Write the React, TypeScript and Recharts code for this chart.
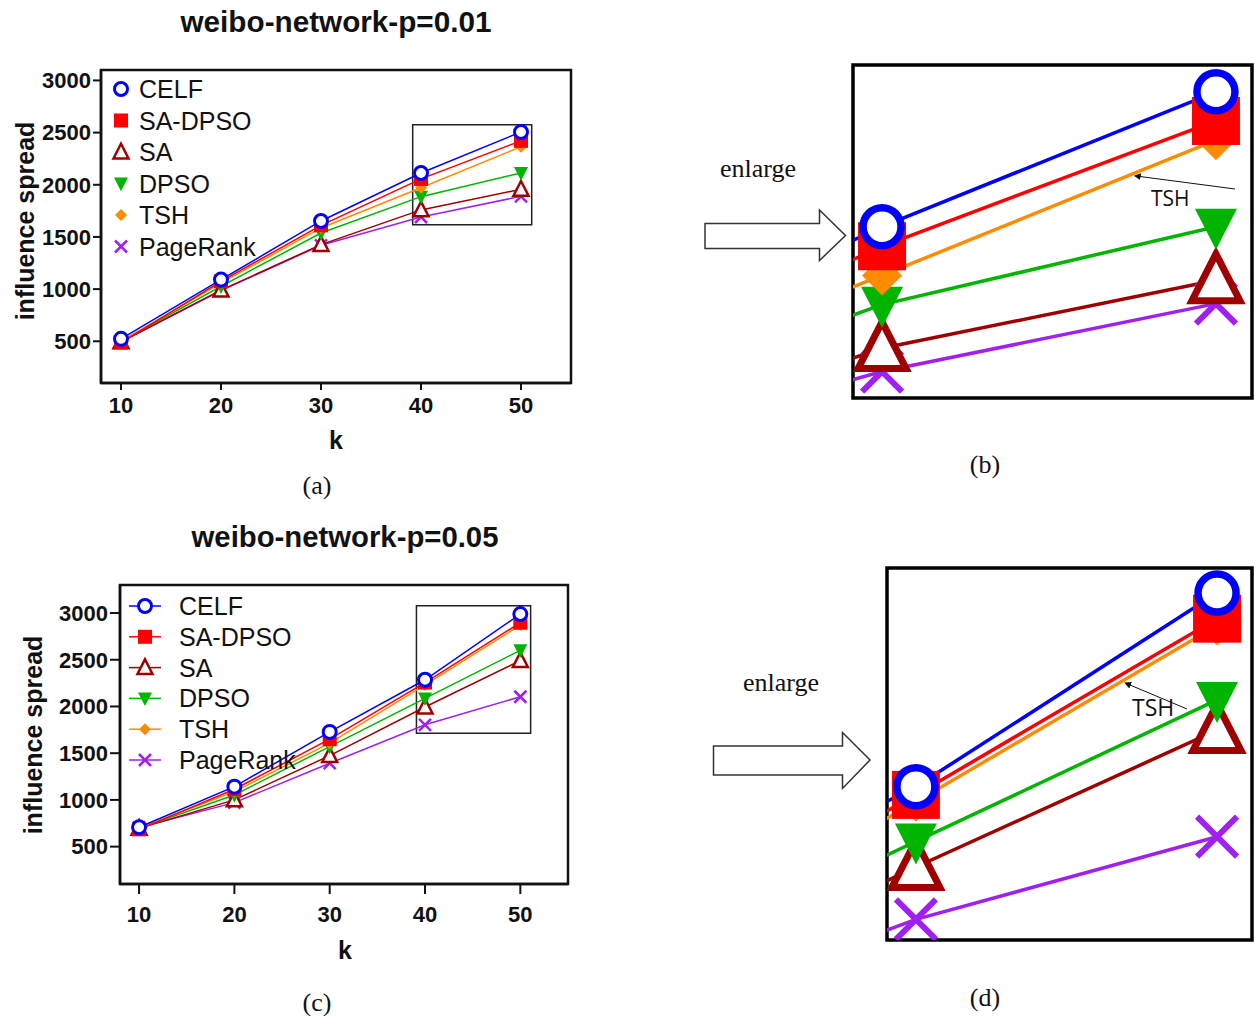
import React from 'react';
import { LineChart, Line, XAxis, YAxis, ReferenceArea, Legend } from 'recharts';

// ---------- data ----------
const kValues = [10, 20, 30, 40, 50];
const xTicks = [10, 20, 30, 40, 50];
const yTicks = [500, 1000, 1500, 2000, 2500, 3000];
const seriesNames = ['CELF', 'SA-DPSO', 'SA', 'DPSO', 'TSH', 'PageRank'];

// weibo-network p = 0.01
const celfP01 = [523, 1091, 1653, 2113, 2506];
const sadpsoP01 = [488, 1075, 1611, 2056, 2421];
const saP01 = [495, 990, 1426, 1759, 1957];
const dpsoP01 = [500, 1027, 1538, 1886, 2113];
const tshP01 = [500, 1059, 1586, 1971, 2365];
const pagerankP01 = [495, 985, 1420, 1691, 1889];

// weibo-network p = 0.05
const celfP05 = [707, 1142, 1728, 2286, 2989];
const sadpsoP05 = [685, 1114, 1650, 2256, 2896];
const saP05 = [695, 1000, 1474, 1994, 2491];
const dpsoP05 = [695, 1053, 1571, 2087, 2601];
const tshP05 = [700, 1089, 1607, 2231, 2871];
const pagerankP05 = [705, 971, 1393, 1804, 2104];

const titleA = 'weibo-network-p=0.01';
const titleC = 'weibo-network-p=0.05';
const xLabel = 'k';
const yLabel = 'influence spread';
const captions = ['(a)', '(b)', '(c)', '(d)'];
const enlargeText = 'enlarge';
const annotationText = 'TSH';

function buildRows(series: number[][]) {
  return kValues.map((k, i) => {
    const row: any = { k };
    seriesNames.forEach((n, j) => {
      row[n] = series[j][i];
    });
    return row;
  });
}
const rowsP01 = buildRows([celfP01, sadpsoP01, saP01, dpsoP01, tshP01, pagerankP01]);
const rowsP05 = buildRows([celfP05, sadpsoP05, saP05, dpsoP05, tshP05, pagerankP05]);

// ---------- styles ----------
const seriesStyle: Record<string, { color: string; shape: string }> = {
  CELF: { color: '#0000FF', shape: 'circle' },
  'SA-DPSO': { color: '#FF0000', shape: 'square' },
  SA: { color: '#9E0000', shape: 'triUp' },
  DPSO: { color: '#00B400', shape: 'triDown' },
  TSH: { color: '#FF8C00', shape: 'diamond' },
  PageRank: { color: '#A020F0', shape: 'cross' },
};
const drawOrder = ['PageRank', 'SA', 'DPSO', 'TSH', 'SA-DPSO', 'CELF'];

const smallSizes: Record<string, [number, number]> = {
  circle: [6.5, 3],
  square: [7, 0],
  triUp: [7.5, 2.5],
  triDown: [7, 0],
  diamond: [6, 0],
  cross: [6, 2.5],
};
const bigSizes: Record<string, [number, number]> = {
  circle: [19, 7.5],
  square: [24, 0],
  triUp: [24, 7],
  triDown: [21, 0],
  diamond: [20, 0],
  cross: [20, 6],
};

const SANS = '"Liberation Sans", Arial, Helvetica, sans-serif';
const SERIF = '"Liberation Serif", "Times New Roman", serif';
const ANNOT = '"Open Sans", "Noto Sans", sans-serif';

function Marker(props: any) {
  const { shape, cx, cy, color, s, sw } = props;
  if (cx == null || cy == null || isNaN(cx) || isNaN(cy)) return null;
  switch (shape) {
    case 'circle':
      return <circle cx={cx} cy={cy} r={s} fill="#fff" stroke={color} strokeWidth={sw} />;
    case 'square':
      return <rect x={cx - s} y={cy - s} width={2 * s} height={2 * s} fill={color} />;
    case 'triUp':
      return (
        <polygon
          points={`${cx},${cy - 1.1 * s} ${cx + s},${cy + 0.85 * s} ${cx - s},${cy + 0.85 * s}`}
          fill="#fff"
          stroke={color}
          strokeWidth={sw}
        />
      );
    case 'triDown':
      return (
        <polygon
          points={`${cx - s},${cy - 0.85 * s} ${cx + s},${cy - 0.85 * s} ${cx},${cy + 1.1 * s}`}
          fill={color}
        />
      );
    case 'diamond':
      return <polygon points={`${cx},${cy - s} ${cx + s},${cy} ${cx},${cy + s} ${cx - s},${cy}`} fill={color} />;
    case 'cross':
      return (
        <g stroke={color} strokeWidth={sw}>
          <line x1={cx - s} y1={cy - s} x2={cx + s} y2={cy + s} />
          <line x1={cx - s} y1={cy + s} x2={cx + s} y2={cy - s} />
        </g>
      );
    default:
      return null;
  }
}

function renderLines(sizes: Record<string, [number, number]>, strokeWidth: number) {
  return drawOrder.map((name) => {
    const st = seriesStyle[name];
    const [s, sw] = sizes[st.shape];
    return (
      <Line
        key={name}
        dataKey={name}
        name={name}
        type="linear"
        stroke={st.color}
        strokeWidth={strokeWidth}
        isAnimationActive={false}
        activeDot={false}
        dot={(p: any) => (
          <Marker key={`${name}-${p.index}`} shape={st.shape} cx={p.cx} cy={p.cy} color={st.color} s={s} sw={sw} />
        )}
      />
    );
  });
}

function LegendSvg(props: any) {
  const { width, height, rowY, step, withLine, markerX, textX } = props;
  return (
    <svg width={width} height={height} style={{ display: 'block' }}>
      {seriesNames.map((name, i) => {
        const st = seriesStyle[name];
        const [s, sw] = smallSizes[st.shape];
        const y = rowY + i * step;
        return (
          <g key={name}>
            {withLine && (
              <line x1={markerX - 16} x2={markerX + 16} y1={y} y2={y} stroke={st.color} strokeWidth={1.5} />
            )}
            <Marker shape={st.shape} cx={markerX} cy={y} color={st.color} s={s} sw={sw} />
            <text
              x={textX}
              y={y}
              dominantBaseline="central"
              fontFamily={SANS}
              fontSize={25}
              fill="#111"
            >
              {name}
            </text>
          </g>
        );
      })}
    </svg>
  );
}

function MainChart(props: any) {
  const {
    rows, left, top, width, height, margin, yDomain, zoomBox, yTickSize, xTickSize, xTickMargin, xAxisHeight,
    yLabelX, yLabelY, kX, kY, legendRowY, legendStep, legendWithLine, legendMarkerX, legendTextX,
  } = props;
  const tickStyle = { fill: '#111', fontSize: 22, fontWeight: 'bold', fontFamily: SANS };
  return (
    <div style={{ position: 'absolute', left, top }}>
      <LineChart width={width} height={height} data={rows} margin={margin} style={{ fontFamily: SANS }}>
        <XAxis
          dataKey="k"
          type="number"
          domain={[8, 55]}
          ticks={xTicks}
          allowDataOverflow
          height={xAxisHeight}
          tickSize={xTickSize}
          tickMargin={xTickMargin}
          tick={tickStyle}
          axisLine={{ stroke: '#111', strokeWidth: 2.5 }}
          tickLine={{ stroke: '#111', strokeWidth: 2 }}
          label={{
            content: () => (
              <text x={kX} y={kY} textAnchor="middle" fontSize={25} fontWeight="bold" fontFamily={SANS} fill="#111">
                {xLabel}
              </text>
            ),
          }}
        />
        <YAxis
          type="number"
          domain={yDomain}
          ticks={yTicks}
          allowDataOverflow
          width={60}
          tickSize={yTickSize}
          tickMargin={2}
          tick={tickStyle}
          axisLine={{ stroke: '#111', strokeWidth: 2.5 }}
          tickLine={{ stroke: '#111', strokeWidth: 2 }}
          label={{
            content: () => (
              <text
                x={yLabelX}
                y={yLabelY}
                transform={`rotate(-90 ${yLabelX} ${yLabelY})`}
                textAnchor="middle"
                dominantBaseline="central"
                fontSize={25}
                fontWeight="bold"
                fontFamily={SANS}
                fill="#111"
              >
                {yLabel}
              </text>
            ),
          }}
        />
        <ReferenceArea
          x1={8}
          x2={55}
          y1={yDomain[0]}
          y2={yDomain[1]}
          fill="none"
          fillOpacity={0}
          stroke="#111"
          strokeWidth={2.5}
          ifOverflow="visible"
        />
        <ReferenceArea
          x1={zoomBox[0]}
          x2={zoomBox[1]}
          y1={zoomBox[2]}
          y2={zoomBox[3]}
          fill="none"
          fillOpacity={0}
          stroke="#222"
          strokeWidth={1.5}
          ifOverflow="visible"
        />
        {renderLines(smallSizes, 1.5)}
        <Legend
          layout="vertical"
          align="center"
          verticalAlign="middle"
          wrapperStyle={{ left: 0, top: 0, width, height, pointerEvents: 'none' }}
          content={() => (
            <LegendSvg
              width={width}
              height={height}
              rowY={legendRowY}
              step={legendStep}
              withLine={legendWithLine}
              markerX={legendMarkerX}
              textX={legendTextX}
            />
          )}
        />
      </LineChart>
    </div>
  );
}

function ZoomChart(props: any) {
  const { rows, left, top, width, height, xDomain, yDomain } = props;
  return (
    <div style={{ position: 'absolute', left, top }}>
      <LineChart width={width} height={height} data={rows} margin={{ top: 10, right: 2, bottom: 10, left: 10 }}>
        <XAxis dataKey="k" type="number" domain={xDomain} allowDataOverflow hide />
        <YAxis type="number" domain={yDomain} allowDataOverflow hide />
        {renderLines(bigSizes, 3.5)}
        <ReferenceArea
          x1={xDomain[0]}
          x2={xDomain[1]}
          y1={yDomain[0]}
          y2={yDomain[1]}
          fill="none"
          fillOpacity={0}
          stroke="#000"
          strokeWidth={3.5}
          ifOverflow="visible"
        />
      </LineChart>
    </div>
  );
}

function Overlay() {
  return (
    <svg
      width={1254}
      height={1016}
      style={{ position: 'absolute', left: 0, top: 0, pointerEvents: 'none' }}
    >
      <defs>
        <marker id="ah" viewBox="0 0 10 10" refX="1" refY="5" markerWidth="7" markerHeight="7" orient="auto-start-reverse">
          <path d="M0,0 L10,5 L0,10 z" fill="#111" />
        </marker>
      </defs>
      {/* titles */}
      <text x={336} y={32} textAnchor="middle" fontFamily={SANS} fontWeight="bold" fontSize={29.7} fill="#111">
        {titleA}
      </text>
      <text x={345} y={547} textAnchor="middle" fontFamily={SANS} fontWeight="bold" fontSize={29.3} fill="#111">
        {titleC}
      </text>
      {/* captions */}
      <text x={317} y={494} textAnchor="middle" fontFamily={SERIF} fontSize={26} fill="#111">{captions[0]}</text>
      <text x={985} y={473} textAnchor="middle" fontFamily={SERIF} fontSize={26} fill="#111">{captions[1]}</text>
      <text x={317} y={1011} textAnchor="middle" fontFamily={SERIF} fontSize={26} fill="#111">{captions[2]}</text>
      <text x={985} y={1006} textAnchor="middle" fontFamily={SERIF} fontSize={26} fill="#111">{captions[3]}</text>
      {/* enlarge labels and arrows */}
      <text x={758} y={177} textAnchor="middle" fontFamily={SERIF} fontSize={26} fill="#111">{enlargeText}</text>
      <text x={781} y={691} textAnchor="middle" fontFamily={SERIF} fontSize={26} fill="#111">{enlargeText}</text>
      <path
        d="M705,223.5 L819.5,223.5 L819.5,210 L845.5,235.5 L819.5,260.5 L819.5,248.5 L705,248.5 Z"
        fill="#fff"
        stroke="#333"
        strokeWidth={1.5}
      />
      <path
        d="M713.5,746 L842.5,746 L842.5,732.5 L870,760 L842.5,788.5 L842.5,775 L713.5,775 Z"
        fill="#fff"
        stroke="#333"
        strokeWidth={1.5}
      />
      {/* TSH annotations */}
      <line x1={1235} y1={189} x2={1140} y2={176.5} stroke="#111" strokeWidth={1} markerEnd="url(#ah)" />
      <text x={1151} y={206} fontFamily={ANNOT} fontSize={21} fill="#111">
        {annotationText}
      </text>
      <line x1={1187} y1={709} x2={1130} y2={685} stroke="#111" strokeWidth={1} markerEnd="url(#ah)" />
      <text x={1132} y={716} fontFamily={ANNOT} fontSize={23} fill="#111">
        {annotationText}
      </text>
    </svg>
  );
}

export default function App() {
  return (
    <div
      style={{
        position: 'absolute',
        left: 0,
        top: 0,
        width: 1254,
        height: 1016,
        overflow: 'hidden',
        background: '#fff',
      }}
    >
      <MainChart
        rows={rowsP01}
        left={0}
        top={0}
        width={600}
        height={470}
        margin={{ top: 70, right: 29, bottom: 12, left: 41 }}
        yDomain={[100, 3100]}
        zoomBox={[39.17, 51.07, 1617, 2576]}
        yTickSize={8}
        xTickSize={7}
        xTickMargin={7}
        xAxisHeight={75}
        yLabelX={25}
        yLabelY={221}
        kX={336}
        kY={449}
        legendRowY={89}
        legendStep={31.5}
        legendWithLine={false}
        legendMarkerX={121}
        legendTextX={139}
      />
      <MainChart
        rows={rowsP05}
        left={0}
        top={540}
        width={600}
        height={440}
        margin={{ top: 45, right: 32, bottom: 16, left: 60 }}
        yDomain={[100, 3300]}
        zoomBox={[39.1, 51.08, 1714, 3078]}
        yTickSize={10}
        xTickSize={10}
        xTickMargin={12}
        xAxisHeight={80}
        yLabelX={33}
        yLabelY={195}
        kX={345}
        kY={419}
        legendRowY={66}
        legendStep={30.8}
        legendWithLine={true}
        legendMarkerX={145}
        legendTextX={179}
      />
      <ZoomChart rows={rowsP01} left={843} top={55} width={411} height={353} xDomain={[39.13, 51.08]} yDomain={[1614, 2584]} />
      <ZoomChart rows={rowsP05} left={877} top={558} width={377} height={392} xDomain={[39.04, 51.16]} yDomain={[1729, 3080]} />
      <Overlay />
    </div>
  );
}
